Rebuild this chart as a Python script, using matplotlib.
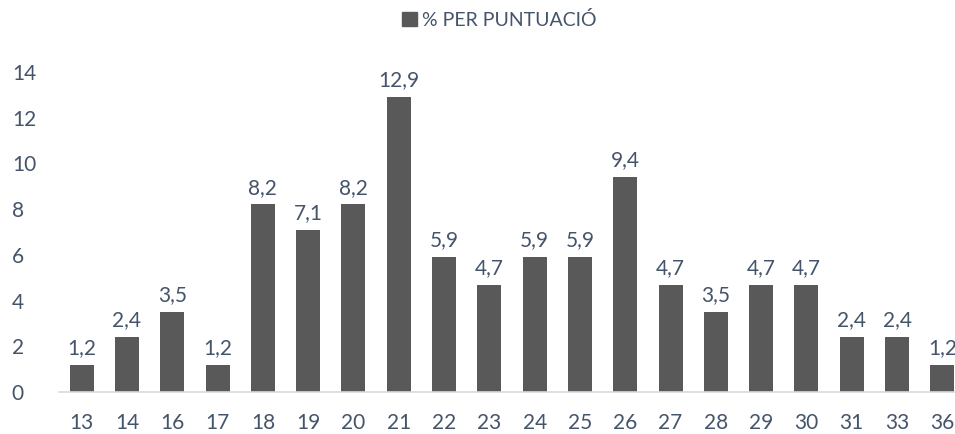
import matplotlib.pyplot as plt
from matplotlib.patches import Patch

scores = ["13", "14", "16", "17", "18", "19", "20", "21", "22", "23",
          "24", "25", "26", "27", "28", "29", "30", "31", "33", "36"]
pct = [1.2, 2.4, 3.5, 1.2, 8.2, 7.1, 8.2, 12.9, 5.9, 4.7,
       5.9, 5.9, 9.4, 4.7, 3.5, 4.7, 4.7, 2.4, 2.4, 1.2]

bar_color = "#595959"
text_color = "#44546A"
plt.rcParams['font.family'] = ['Lato', 'DejaVu Sans']

fig = plt.figure(figsize=(9.55, 4.34), dpi=100)
ax = fig.add_axes([59 / 955, 1 - 392 / 434, 1 - 59 / 955, (392 - 49) / 434])

x = list(range(len(scores)))
bars = ax.bar(x, pct, width=0.53, color=bar_color)
for b, v in zip(bars, pct):
    ax.text(b.get_x() + b.get_width() / 2, v + 0.3, f"{v:.1f}".replace(".", ","),
            ha="center", va="bottom", fontsize=15, color=text_color)

ax.set_xlim(-0.5, 19.28)
ax.set_ylim(0, 15)
ax.set_xticks(x)
ax.set_xticklabels(scores)
ax.set_yticks(range(0, 15, 2))
ax.tick_params(axis="both", length=0, labelsize=15, colors=text_color)
ax.tick_params(axis="x", pad=15)
ax.tick_params(axis="y", pad=34)
for lbl in ax.get_yticklabels():
    lbl.set_horizontalalignment("left")
for s in ["top", "right", "left"]:
    ax.spines[s].set_visible(False)
ax.spines["bottom"].set_color("#D9D9D9")
ax.spines["bottom"].set_linewidth(1.2)

fig.legend(handles=[Patch(color=bar_color, label="% PER PUNTUACIÓ")],
           loc="center", bbox_to_anchor=(0.523, 1 - 20 / 434), frameon=False,
           fontsize=14, labelcolor=text_color, handlelength=0.75, handleheight=0.75,
           handletextpad=0.25)

fig.savefig("out.png", dpi=100)
